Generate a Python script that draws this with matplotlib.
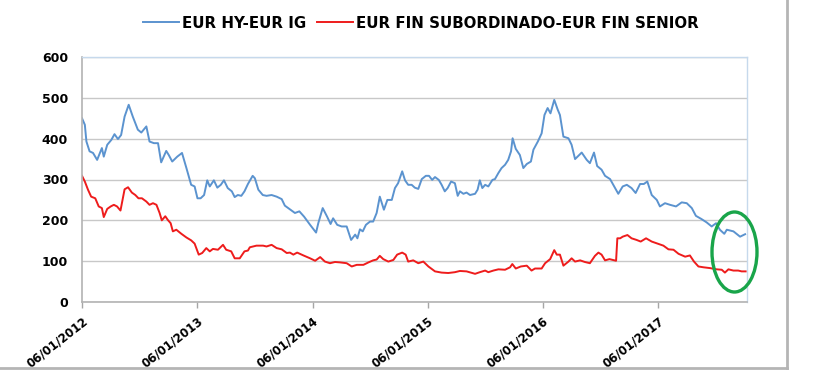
import matplotlib
matplotlib.use("Agg")
import matplotlib.pyplot as plt
from matplotlib.patches import Ellipse
from matplotlib.lines import Line2D
import pandas as pd

plt.rcParams['font.family'] = ['DejaVu Sans']

hy_label = "EUR HY-EUR IG"
fin_label = "EUR FIN SUBORDINADO-EUR FIN SENIOR"

hy_dates = [
    "2012-01-06", "2012-01-15", "2012-01-20", "2012-01-30", "2012-02-10", "2012-02-23", "2012-03-09", "2012-03-15",
    "2012-03-26", "2012-04-08", "2012-04-18", "2012-04-29", "2012-05-09", "2012-05-20", "2012-06-02", "2012-06-15",
    "2012-07-01", "2012-07-12", "2012-07-28", "2012-08-07", "2012-08-21", "2012-09-03", "2012-09-13", "2012-09-29",
    "2012-10-07", "2012-10-18", "2012-11-03", "2012-11-18", "2012-12-02", "2012-12-17", "2012-12-28", "2013-01-06",
    "2013-01-16", "2013-01-27", "2013-02-06", "2013-02-14", "2013-02-27", "2013-03-10", "2013-03-21", "2013-03-31",
    "2013-04-12", "2013-04-25", "2013-05-04", "2013-05-14", "2013-05-25", "2013-06-04", "2013-06-15", "2013-06-30",
    "2013-07-07", "2013-07-18", "2013-08-01", "2013-08-13", "2013-08-29", "2013-09-14", "2013-09-30", "2013-10-10",
    "2013-10-26", "2013-11-11", "2013-11-25", "2013-12-10", "2013-12-29", "2014-01-17", "2014-01-24", "2014-02-07",
    "2014-02-21", "2014-03-04", "2014-03-12", "2014-03-25", "2014-04-08", "2014-04-24", "2014-05-08", "2014-05-21",
    "2014-05-28", "2014-06-05", "2014-06-14", "2014-06-24", "2014-07-07", "2014-07-17", "2014-07-28", "2014-08-07",
    "2014-08-20", "2014-08-31", "2014-09-14", "2014-09-24", "2014-10-04", "2014-10-17", "2014-10-26", "2014-11-05",
    "2014-11-16", "2014-11-26", "2014-12-07", "2014-12-18", "2014-12-31", "2015-01-10", "2015-01-20", "2015-01-29",
    "2015-02-10", "2015-02-19", "2015-03-01", "2015-03-10", "2015-03-21", "2015-04-02", "2015-04-11", "2015-04-18",
    "2015-04-29", "2015-05-09", "2015-05-20", "2015-06-05", "2015-06-13", "2015-06-20", "2015-06-28", "2015-07-07",
    "2015-07-17", "2015-07-30", "2015-08-07", "2015-08-18", "2015-08-28", "2015-09-08", "2015-09-18", "2015-09-27",
    "2015-10-02", "2015-10-12", "2015-10-25", "2015-11-05", "2015-11-16", "2015-11-29", "2015-12-07", "2015-12-21",
    "2016-01-02", "2016-01-11", "2016-01-21", "2016-01-30", "2016-02-11", "2016-02-22", "2016-02-29", "2016-03-11",
    "2016-03-27", "2016-04-06", "2016-04-17", "2016-05-08", "2016-05-24", "2016-06-03", "2016-06-16", "2016-06-26",
    "2016-07-10", "2016-07-21", "2016-08-06", "2016-08-19", "2016-09-01", "2016-09-15", "2016-09-28", "2016-10-13",
    "2016-10-26", "2016-11-09", "2016-11-21", "2016-12-02", "2016-12-16", "2017-01-01", "2017-01-11", "2017-01-27",
    "2017-02-12", "2017-03-03", "2017-03-21", "2017-04-06", "2017-04-22", "2017-05-05", "2017-05-23", "2017-06-08",
    "2017-06-24", "2017-07-08", "2017-07-20", "2017-08-03", "2017-08-11", "2017-09-01", "2017-09-22", "2017-10-08",
]
hy_values = [
    450, 434, 393, 369, 365, 348, 377, 356,
    385, 397, 411, 399, 409, 454, 483, 454,
    422, 415, 430, 393, 389, 389, 342, 370,
    360, 344, 356, 365, 328, 287, 283, 254,
    254, 262, 298, 283, 298, 280, 287, 298,
    279, 271, 257, 262, 260, 271, 289, 309,
    303, 275, 262, 260, 262, 258, 252, 236,
    227, 218, 222, 209, 189, 170, 193, 230,
    209, 191, 205, 189, 185, 185, 152, 165,
    156, 178, 173, 189, 197, 197, 218, 258,
    226, 250, 250, 279, 291, 320, 298, 287,
    287, 280, 277, 301, 309, 309, 299, 306,
    299, 287, 271, 279, 295, 291, 260, 271,
    265, 268, 262, 265, 275, 298, 279, 287,
    283, 299, 301, 316, 328, 336, 348, 369,
    401, 375, 360, 328, 338, 344, 373, 393,
    413, 458, 475, 462, 495, 471, 458, 405,
    401, 385, 350, 366, 348, 340, 366, 333,
    324, 309, 301, 283, 265, 283, 287, 279,
    267, 289, 289, 295, 262, 250, 234, 242,
    238, 234, 244, 242, 230, 211, 203, 195,
    185, 193, 177, 167, 177, 173, 160, 166,
]

fin_dates = [
    "2012-01-06", "2012-01-15", "2012-01-25", "2012-02-04", "2012-02-17", "2012-02-28", "2012-03-09", "2012-03-15",
    "2012-03-26", "2012-04-06", "2012-04-16", "2012-04-26", "2012-05-07", "2012-05-20", "2012-05-31", "2012-06-12",
    "2012-06-23", "2012-07-03", "2012-07-14", "2012-07-28", "2012-08-07", "2012-08-18", "2012-08-29", "2012-09-08",
    "2012-09-15", "2012-09-26", "2012-10-04", "2012-10-13", "2012-10-20", "2012-10-31", "2012-11-16", "2012-12-02",
    "2012-12-17", "2012-12-28", "2013-01-10", "2013-01-21", "2013-02-03", "2013-02-14", "2013-02-24", "2013-03-12",
    "2013-03-28", "2013-04-07", "2013-04-23", "2013-05-04", "2013-05-20", "2013-06-04", "2013-06-15", "2013-06-21",
    "2013-07-12", "2013-08-02", "2013-08-13", "2013-08-29", "2013-09-14", "2013-09-30", "2013-10-16", "2013-10-26",
    "2013-11-06", "2013-11-18", "2013-12-08", "2013-12-29", "2014-01-14", "2014-01-30", "2014-02-14", "2014-03-02",
    "2014-03-18", "2014-04-03", "2014-04-24", "2014-05-10", "2014-05-26", "2014-06-16", "2014-07-02", "2014-07-17",
    "2014-07-28", "2014-08-07", "2014-08-18", "2014-09-03", "2014-09-19", "2014-10-01", "2014-10-17", "2014-10-28",
    "2014-11-05", "2014-11-21", "2014-12-07", "2014-12-23", "2015-01-08", "2015-01-29", "2015-02-19", "2015-03-12",
    "2015-04-02", "2015-04-18", "2015-05-09", "2015-06-05", "2015-06-20", "2015-07-07", "2015-07-17", "2015-08-02",
    "2015-08-18", "2015-09-08", "2015-09-24", "2015-10-01", "2015-10-12", "2015-10-28", "2015-11-16", "2015-12-01",
    "2015-12-12", "2016-01-02", "2016-01-13", "2016-01-29", "2016-02-11", "2016-02-19", "2016-02-29", "2016-03-11",
    "2016-03-27", "2016-04-06", "2016-04-17", "2016-05-03", "2016-05-18", "2016-06-03", "2016-06-19", "2016-06-30",
    "2016-07-10", "2016-07-21", "2016-08-04", "2016-08-25", "2016-08-29", "2016-09-07", "2016-09-15", "2016-09-30",
    "2016-10-13", "2016-10-29", "2016-11-11", "2016-11-28", "2016-12-16", "2017-01-03", "2017-01-22", "2017-02-07",
    "2017-02-23", "2017-03-11", "2017-04-01", "2017-04-16", "2017-04-29", "2017-05-13", "2017-05-29", "2017-06-19",
    "2017-07-10", "2017-07-26", "2017-08-05", "2017-08-16", "2017-09-01", "2017-09-16", "2017-09-27", "2017-10-10",
]
fin_values = [
    309, 295, 275, 258, 254, 234, 230, 208,
    228, 234, 238, 234, 224, 276, 281, 268,
    262, 254, 254, 246, 238, 242, 238, 218,
    200, 210, 201, 193, 173, 177, 167, 158,
    151, 143, 116, 120, 132, 124, 130, 128,
    140, 128, 124, 107, 107, 124, 126, 134,
    138, 138, 136, 140, 132, 129, 120, 121,
    116, 121, 114, 107, 101, 110, 99, 95,
    98, 97, 95, 87, 91, 91, 97, 102,
    104, 113, 105, 99, 103, 116, 121, 116,
    99, 102, 95, 99, 87, 75, 72, 71,
    73, 76, 75, 69, 73, 77, 73, 77,
    80, 79, 85, 93, 82, 87, 89, 77,
    82, 82, 95, 105, 127, 116, 116, 89,
    99, 107, 99, 102, 98, 95, 113, 121,
    116, 102, 105, 101, 156, 156, 160, 164,
    156, 152, 148, 156, 148, 143, 138, 129,
    128, 118, 111, 114, 99, 87, 85, 83,
    80, 79, 72, 80, 77, 77, 75, 75,
]

tick_dates = ["2012-01-06", "2013-01-06", "2014-01-06", "2015-01-06", "2016-01-06", "2017-01-06"]
tick_labels = ["06/01/2012", "06/01/2013", "06/01/2014", "06/01/2015", "06/01/2016", "06/01/2017"]
y_ticks = [0, 100, 200, 300, 400, 500, 600]

W, H = 826, 385
fig = plt.figure(figsize=(W / 100, H / 100), dpi=100)
fig.patch.set_facecolor("white")
ax = fig.add_axes([82 / W, 1 - 302 / H, (747 - 82) / W, (302 - 57) / H])

blue = "#5b93cf"
red = "#ee1c1c"
ax.plot(pd.to_datetime(hy_dates), hy_values, color=blue, lw=1.4, solid_joinstyle="round")
ax.plot(pd.to_datetime(fin_dates), fin_values, color=red, lw=1.4, solid_joinstyle="round")

ax.set_xlim(pd.Timestamp("2012-01-06"), pd.Timestamp("2017-10-14"))
ax.set_ylim(0, 600)
ax.set_yticks(y_ticks)
ax.set_yticklabels([str(v) for v in y_ticks], fontsize=9, fontweight="bold")
ax.set_xticks(pd.to_datetime(tick_dates))
ax.set_xticklabels(tick_labels, fontsize=8.5, fontweight="bold", rotation=38,
                   ha="right", va="top", rotation_mode="anchor")
ax.tick_params(axis="y", length=0, pad=10)
ax.tick_params(axis="x", length=4, width=1, color="#a6a6a6", pad=5)
ax.yaxis.grid(True, color="#c8c8c8", lw=1)
ax.set_axisbelow(True)

for s in ["top", "right"]:
    ax.spines[s].set_color("#c6d9ec")
    ax.spines[s].set_linewidth(1)
for s in ["left", "bottom"]:
    ax.spines[s].set_color("#b3b3b3")
    ax.spines[s].set_linewidth(1.2)

# legend
handles = [Line2D([], [], color=blue, lw=1.4), Line2D([], [], color=red, lw=1.4)]
fig.legend(handles, [hy_label, fin_label], loc="center", bbox_to_anchor=(421 / W, 1 - 23 / H),
           ncol=2, frameon=False, prop={"weight": "bold", "size": 10.8},
           handlelength=2.4, handletextpad=0.2, columnspacing=0.7)

# screenshot frame lines
fig.add_artist(Line2D([787 / W, 787 / W], [1, 1 - 368 / H], transform=fig.transFigure,
                      color="#b5b5b5", lw=2))
fig.add_artist(Line2D([0, 787 / W], [1 - 368 / H, 1 - 368 / H], transform=fig.transFigure,
                      color="#b5b5b5", lw=2))

# green highlight ellipse
fig.add_artist(Ellipse((734.5 / W, 1 - 252 / H), 45 / W, 80 / H, transform=fig.transFigure,
                       fill=False, edgecolor="#19a54a", lw=2.4))

fig.savefig("out.png", dpi=100)
